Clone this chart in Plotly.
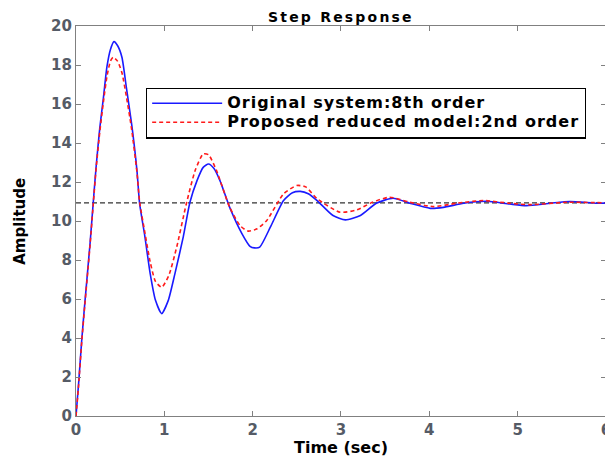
import plotly.graph_objects as go

t_orig = [0, 0.03, 0.065, 0.10, 0.16, 0.196, 0.23, 0.27, 0.31, 0.35, 0.39, 0.43, 0.47, 0.52,
          0.57, 0.63, 0.69, 0.72, 0.78, 0.84, 0.90, 0.97, 1.045, 1.12, 1.215, 1.29, 1.37, 1.44,
          1.50, 1.56, 1.63, 1.74, 1.88, 1.97, 2.02, 2.08, 2.20, 2.35, 2.45, 2.54, 2.63, 2.73,
          2.91, 3.05, 3.22, 3.40, 3.59, 3.78, 4.01, 4.16, 4.39, 4.65, 4.91, 5.10, 5.37, 5.59,
          5.90, 6.0]
y_orig = [0, 1.7, 3.9, 5.8, 8.9, 11.0, 12.9, 14.8, 16.3, 17.9, 18.8, 19.2, 19.0, 18.4,
          16.85, 14.97, 12.6, 10.9, 9.2, 7.3, 5.93, 5.25, 5.93, 7.3, 9.2, 10.96, 12.07, 12.75,
          12.92, 12.7, 12.07, 10.7, 9.34, 8.7, 8.62, 8.66, 9.68, 11.05, 11.45, 11.52, 11.4, 11.05,
          10.28, 10.06, 10.28, 10.91, 11.17, 10.91, 10.65, 10.7, 10.91, 11.01, 10.87, 10.79, 10.91, 11.0,
          10.91, 10.92]

t_red = [0, 0.03, 0.065, 0.10, 0.16, 0.196, 0.23, 0.27, 0.31, 0.35, 0.39, 0.42, 0.47, 0.52,
         0.57, 0.63, 0.69, 0.72, 0.78, 0.84, 0.90, 0.97, 1.05, 1.14, 1.25, 1.35, 1.44, 1.50,
         1.59, 1.74, 1.86, 1.95, 2.05, 2.16, 2.35, 2.50, 2.60, 2.73, 2.99, 3.18, 3.35, 3.55,
         3.78, 4.05, 4.31, 4.61, 4.91, 5.14, 5.56, 6.0]
y_red = [0, 1.6, 3.8, 5.7, 8.8, 10.9, 12.8, 14.6, 16.1, 17.4, 18.2, 18.4, 18.2, 17.6,
         16.4, 14.7, 12.5, 11.0, 9.4, 7.9, 6.9, 6.6, 7.2, 8.66, 10.9, 12.6, 13.44, 13.4,
         12.6, 10.7, 9.75, 9.48, 9.6, 10.03, 11.39, 11.82, 11.75, 11.14, 10.45, 10.57, 10.95, 11.22,
         10.96, 10.74, 10.91, 11.05, 10.91, 10.84, 10.96, 10.93]

final_t = [0, 6]
final_y = [10.93, 10.93]

x_ticks = [0, 1, 2, 3, 4, 5, 6]
y_ticks = [0, 2, 4, 6, 8, 10, 12, 14, 16, 18, 20]

FONT = "DejaVu Sans"
LS = '<span style="font-size:16px;letter-spacing:1px">'

fig = go.Figure()
fig.add_trace(go.Scatter(x=final_t, y=final_y, mode="lines", showlegend=False,
                         line=dict(color="#333333", width=1.2, dash="5px,3px")))
fig.add_trace(go.Scatter(x=t_orig, y=y_orig, mode="lines",
                         name=LS + "<b>Original system:8th order</b></span>",
                         line=dict(color="#1a1aff", width=1.6, shape="spline", smoothing=0.6)))
fig.add_trace(go.Scatter(x=t_red, y=y_red, mode="lines",
                         name=LS + "<b>Proposed reduced model:2nd order</b></span>",
                         line=dict(color="#ff1a1a", width=1.6, dash="4px,3px", shape="spline", smoothing=0.6)))

axis_common = dict(showline=True, linecolor="#808080", linewidth=1.2, mirror="ticks",
                   ticks="inside", ticklen=5, tickcolor="#808080", showgrid=False, zeroline=False,
                   automargin=False,
                   tickfont=dict(family=FONT, size=15, color="#555b66", weight="bold"))

# page has an 8px body margin: figure is 605x452 placed at (8, 8)
fig.update_layout(
    width=605, height=452,
    paper_bgcolor="white", plot_bgcolor="white",
    margin=dict(l=68, r=7, t=18, b=44),
    xaxis=dict(range=[0, 6.0005], tickvals=x_ticks, **axis_common),
    yaxis=dict(range=[0, 20.0005], tickvals=y_ticks, **axis_common),
    legend=dict(x=0.132, y=0.842, xanchor="left", yanchor="top",
                bgcolor="white", bordercolor="black", borderwidth=1.2,
                font=dict(family=FONT, size=12, color="black"),
                itemwidth=70, tracegroupgap=0),
    annotations=[
        dict(text='<span style="letter-spacing:2.2px"><b>Step Response</b></span>',
             xref="paper", yref="paper", x=0.5, y=1.024,
             xanchor="center", yanchor="middle", showarrow=False,
             font=dict(family=FONT, size=14, color="black")),
        dict(text="<b>Time (sec)</b>", xref="paper", yref="paper", x=0.5, y=-0.08,
             xanchor="center", yanchor="middle", showarrow=False,
             font=dict(family=FONT, size=16, color="black")),
        dict(text="<b>Amplitude</b>", xref="paper", yref="paper", x=-0.106, y=0.5,
             xanchor="center", yanchor="middle", showarrow=False, textangle=-90,
             font=dict(family=FONT, size=15, color="black")),
    ],
)

fig.write_html("out.html")
